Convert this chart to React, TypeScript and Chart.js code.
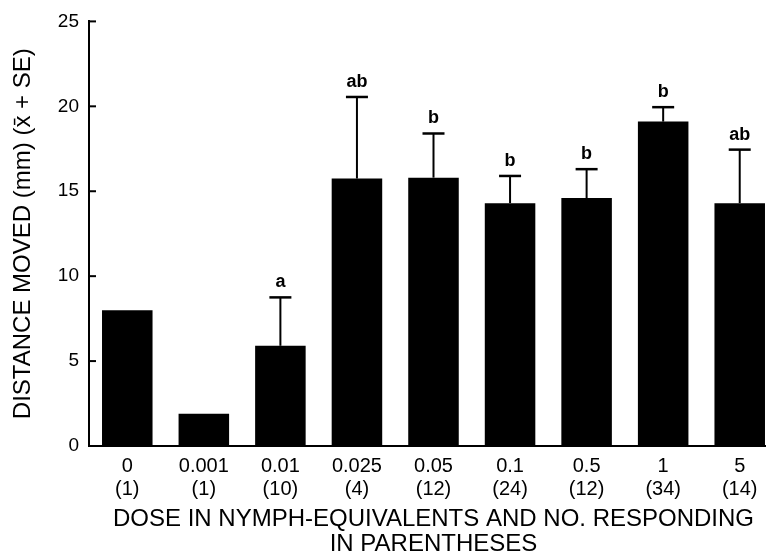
import React, { useEffect, useRef } from "react";
import { Chart, registerables } from "chart.js";

Chart.register(...registerables);

const doses = ["0", "0.001", "0.01", "0.025", "0.05", "0.1", "0.5", "1", "5"];
const nResponding = ["(1)", "(1)", "(10)", "(4)", "(12)", "(24)", "(12)", "(34)", "(14)"];
const means = [8.0, 1.9, 5.9, 15.75, 15.8, 14.3, 14.6, 19.1, 14.3];
const seUpper = [0, 0, 2.85, 4.8, 2.6, 1.6, 1.7, 0.85, 3.15];
const letters = ["", "", "a", "ab", "b", "b", "b", "b", "ab"];
const yTicks = [0, 5, 10, 15, 20, 25];

const FONT = "'Liberation Sans', Arial, Helvetica, sans-serif";

const errorPlugin = {
  id: "errorBarsAndLetters",
  afterDatasetsDraw(chart: any) {
    const ctx = chart.ctx;
    const meta = chart.getDatasetMeta(0);
    const y = chart.scales.y;
    const area = chart.chartArea;
    ctx.save();
    ctx.strokeStyle = "#000";
    ctx.fillStyle = "#000";
    ctx.lineWidth = 2;
    meta.data.forEach((bar: any, i: number) => {
      const x = bar.x;
      const top = y.getPixelForValue(means[i]);
      let labelY = top;
      const se = seUpper[i];
      if (se) {
        const cy = y.getPixelForValue(means[i] + se);
        ctx.beginPath();
        ctx.moveTo(x, top);
        ctx.lineTo(x, cy);
        ctx.stroke();
        ctx.lineWidth = 2.5;
        ctx.beginPath();
        ctx.moveTo(x - 11, cy);
        ctx.lineTo(x + 11, cy);
        ctx.stroke();
        ctx.lineWidth = 2;
        labelY = cy;
      }
      if (letters[i]) {
        ctx.font = `bold 18px ${FONT}`;
        ctx.textAlign = "center";
        ctx.textBaseline = "alphabetic";
        ctx.fillText(letters[i], x, labelY - 10);
      }
    });
    // inward tick marks on the y axis
    ctx.lineWidth = 2;
    yTicks.forEach((v) => {
      const py = y.getPixelForValue(v);
      ctx.beginPath();
      ctx.moveTo(area.left, py);
      ctx.lineTo(area.left + 7, py);
      ctx.stroke();
    });
    ctx.restore();
  },
};

export default function App() {
  const ref = useRef<HTMLCanvasElement | null>(null);

  useEffect(() => {
    if (!ref.current) return;
    const chart = new Chart(ref.current, {
      type: "bar",
      data: {
        labels: doses.map((d, i) => [d, nResponding[i]]),
        datasets: [
          {
            data: means,
            backgroundColor: "#000",
            borderWidth: 0,
            barPercentage: 0.66,
            categoryPercentage: 1,
          },
        ],
      },
      options: {
        responsive: false,
        animation: false,
        devicePixelRatio: 1,
        layout: { padding: { top: 21, right: 22, left: 0, bottom: 0 } },
        plugins: {
          legend: { display: false },
          tooltip: { enabled: false },
        },
        scales: {
          x: {
            grid: { display: false, drawTicks: false },
            border: { display: true, color: "#000", width: 2 },
            ticks: {
              color: "#000",
              font: { family: FONT, size: 20, lineHeight: 1.15 },
              padding: 9,
              maxRotation: 0,
              autoSkip: false,
            },
            title: {
              display: true,
              text: ["DOSE IN NYMPH-EQUIVALENTS AND NO. RESPONDING", "IN PARENTHESES"],
              color: "#000",
              font: { family: FONT, size: 24, lineHeight: 1.05 },
              padding: { top: 0, bottom: 0 },
            },
            afterFit: (s: any) => {
              s.height = 111;
            },
          },
          y: {
            min: 0,
            max: 25,
            afterBuildTicks: (s: any) => {
              s.ticks = yTicks.map((v) => ({ value: v }));
            },
            grid: { display: false, drawTicks: false },
            border: { display: true, color: "#000", width: 2 },
            ticks: {
              color: "#000",
              font: { family: FONT, size: 19 },
              padding: 10,
            },
            title: {
              display: true,
              text: "DISTANCE MOVED (mm) (x\u0304 + SE)",
              color: "#000",
              font: { family: FONT, size: 24, lineHeight: 1.2 },
              padding: { top: 9, bottom: 0 },
            },
            afterFit: (s: any) => {
              s.width = 89;
            },
          },
        },
      },
      plugins: [errorPlugin],
    });
    return () => chart.destroy();
  }, []);

  return (
    <div
      style={{
        position: "fixed",
        left: 0,
        top: 0,
        width: 766,
        height: 553,
        overflow: "hidden",
        background: "#fff",
      }}
    >
      <canvas ref={ref} width={800} height={557} style={{ display: "block", width: 800, height: 557 }} />
    </div>
  );
}
